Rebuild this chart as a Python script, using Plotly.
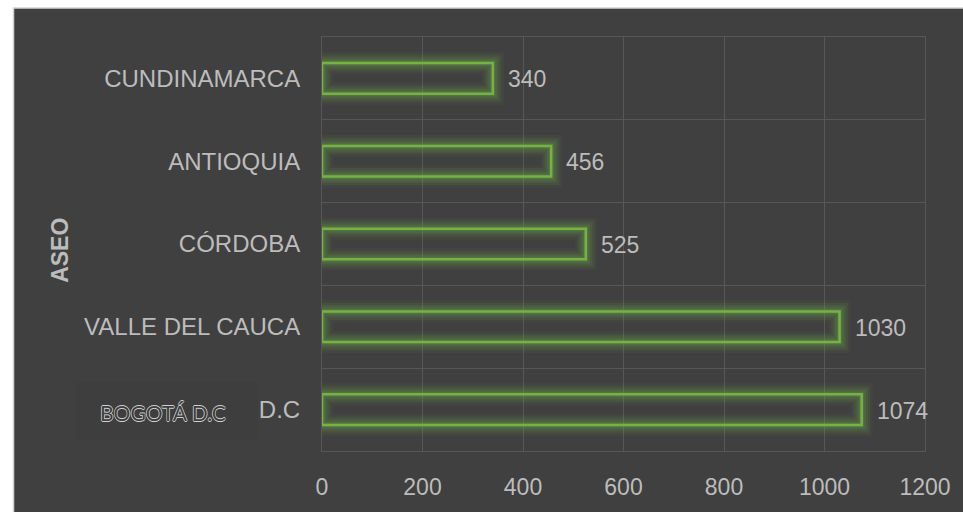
import plotly.graph_objects as go

# Category labels (bottom to top) and their values
categories = ["BOGOTÁ D.C", "VALLE DEL CAUCA", "CÓRDOBA", "ANTIOQUIA", "CUNDINAMARCA"]
values = [1074, 1030, 525, 456, 340]
x_ticks = [0, 200, 400, 600, 800, 1000, 1200]
axis_title = "ASEO"
overlay_label = "BOGOTÁ D.C"

positions = list(range(len(categories)))

W, H = 963, 512
ML, MR, MT, MB = 322, 38, 37, 53
PW, PH = W - ML - MR, H - MT - MB


def px_x(p):
    return (p - ML) / PW


def px_y(p):
    return (H - MB - p) / PH


BG = "#404040"
GRID = "#575757"
TXT = "#bcbcbc"
GREEN = (112, 173, 71)
BAR_W = 0.37

fig = go.Figure()

# soft glow around each bar: stacked translucent outlines
for w, a in [(22, 0.06), (17, 0.09), (13, 0.11), (9, 0.14), (5, 0.2)]:
    fig.add_trace(go.Bar(
        orientation="h", x=values, y=positions, width=BAR_W,
        marker=dict(color="rgba(0,0,0,0)",
                    line=dict(color=f"rgba({GREEN[0]},{GREEN[1]},{GREEN[2]},{a})", width=w)),
        hoverinfo="skip", showlegend=False,
    ))

# crisp outline
fig.add_trace(go.Bar(
    orientation="h", x=values, y=positions, width=BAR_W,
    marker=dict(color="rgba(0,0,0,0)", line=dict(color="#74b244", width=2.5)),
    hoverinfo="skip", showlegend=False,
))

annotations = []
for v, p in zip(values, positions):
    annotations.append(dict(
        x=v, y=p, xref="x", yref="y", text=str(v), showarrow=False,
        xanchor="left", yanchor="middle", xshift=13, yshift=-1,
        font=dict(family="Liberation Sans, Arial", size=23, color=TXT),
    ))

# vertical axis title
annotations.append(dict(
    x=px_x(60), y=px_y(255), xref="paper", yref="paper", text=f"<b>{axis_title}</b>",
    showarrow=False, textangle=-90, xanchor="center", yanchor="middle",
    font=dict(family="Liberation Sans, Arial", size=23, color=TXT),
))

# outlined label placed over the first category name
BOX = "#3e3e3e"
outline = "#d0d0d0"
annotations.append(dict(
    x=px_x(98), y=px_y(420), xref="paper", yref="paper", text=overlay_label,
    showarrow=False, xanchor="left", yanchor="middle",
    font=dict(family="Lato", size=21, color=BOX,
              shadow=f"0.7px 0 {outline}, -0.7px 0 {outline}, 0 0.7px {outline}, 0 -0.7px {outline}"),
))

shapes = [
    # dark chart area with a thin light frame
    dict(type="rect", xref="paper", yref="paper", layer="below",
         x0=px_x(13.5), x1=px_x(W + 20), y0=px_y(H + 20), y1=px_y(7.5),
         fillcolor=BG, line=dict(color="#d4d4d4", width=1.5)),
    # box behind the outlined label
    dict(type="rect", xref="paper", yref="paper", layer="above",
         x0=px_x(76), x1=px_x(258), y0=px_y(447), y1=px_y(389),
         fillcolor=BOX, line=dict(width=0)),
]

fig.update_layout(
    width=W, height=H,
    margin=dict(l=ML, r=MR, t=MT, b=MB, pad=0),
    paper_bgcolor="#ffffff", plot_bgcolor="rgba(0,0,0,0)",
    barmode="overlay", showlegend=False,
    annotations=annotations, shapes=shapes,
    xaxis=dict(
        range=[0, 1200], tickvals=x_ticks, ticktext=[str(t) for t in x_ticks],
        showgrid=True, gridcolor=GRID, gridwidth=1, zeroline=False,
        showline=True, mirror=True, linecolor=GRID, linewidth=1,
        ticks="", ticklabelstandoff=15,
        tickfont=dict(family="Liberation Sans, Arial", size=23, color=TXT),
        fixedrange=True,
    ),
    yaxis=dict(
        range=[-0.5, len(categories) - 0.5], tickvals=positions, ticktext=categories,
        showgrid=False, zeroline=False,
        showline=True, mirror=True, linecolor=GRID, linewidth=1,
        minor=dict(tickvals=[p + 0.5 for p in positions[:-1]], showgrid=True,
                   gridcolor=GRID, gridwidth=1, ticks=""),
        ticks="", ticklabelstandoff=16,
        tickfont=dict(family="Liberation Sans, Arial", size=24, color=TXT),
        fixedrange=True,
    ),
)

fig.write_html("out.html", config={"displayModeBar": False})
